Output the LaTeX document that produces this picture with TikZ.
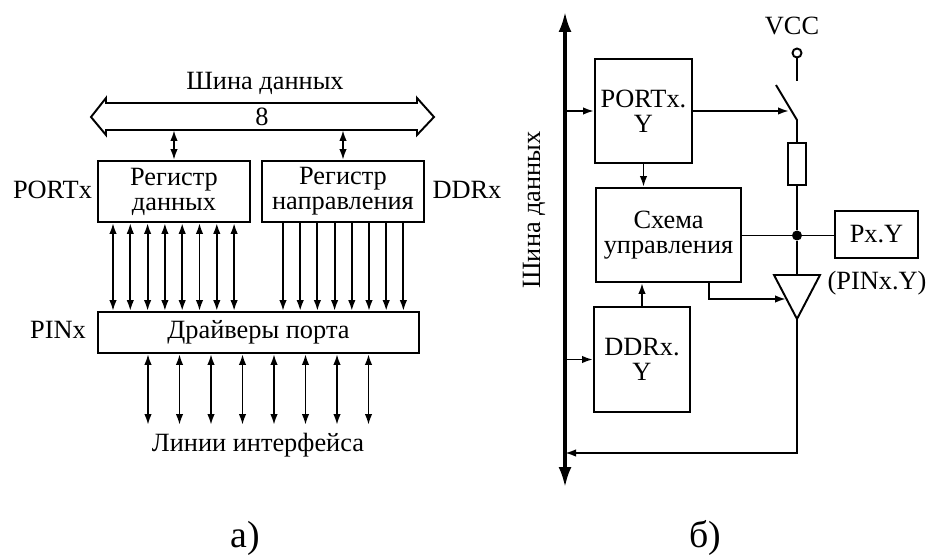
\documentclass[tikz,border=0pt]{standalone}
\usepackage{fontspec}
\usepackage{xcolor}
\usetikzlibrary{arrows.meta}
\setmainfont{Liberation Serif}
\tikzset{
  box/.style={draw,line width=1.1pt,inner sep=0pt,align=center,font=\lbl},
  lbl/.style={inner sep=0pt,align=center,font=\lbl},
  sig/.style={line width=1.1pt,-{Latex[length=2.2mm,width=1.5mm]}},
  sigboth/.style={line width=1.1pt,{Latex[length=2.2mm,width=1.5mm]}-{Latex[length=2.2mm,width=1.5mm]}},
  wire/.style={line width=1.1pt}
}
\newcommand{\lbl}{\fontsize{15}{14.2}\selectfont}
\begin{document}
\begin{tikzpicture}[x=1cm,y=1cm]
\useasboundingbox (0,0) rectangle (18.56,-11.12);
% a)
\node[lbl] (bustitle) at (5.30,-1.66) {Шина данных};
\draw[wire] (1.82,-2.34) -- (2.12,-1.96) -- (2.12,-2.06) -- (8.34,-2.06) -- (8.34,-1.96)
  -- (8.68,-2.34) -- (8.34,-2.70) -- (8.34,-2.60) -- (2.12,-2.60) -- (2.12,-2.70) -- cycle;
\node[lbl] (buswidth) at (5.24,-2.34) {8};
\coordinate (buslow) at (5.24,-2.60);
\node[box,minimum width=3.04cm,minimum height=1.22cm] (regdata) at (3.48,-3.83) {Регистр\\данных};
\node[box,minimum width=3.24cm,minimum height=1.22cm] (regdir) at (6.86,-3.83) {Регистр\\направления};
\node[box,minimum width=6.42cm,minimum height=0.82cm] (drivers) at (5.17,-6.65) {Драйверы порта};
\node[lbl] (portname) at (1.05,-3.80) {PORTx};
\node[lbl] (ddrname) at (9.34,-3.80) {DDRx};
\node[lbl] (pinname) at (1.16,-6.60) {PINx};
\node[lbl] (ifacename) at (5.16,-8.90) {Линии интерфейса};
\node[font=\fontsize{21.5}{22}\selectfont,inner sep=0pt] (capa) at (4.90,-10.76) {а)};
\draw[sigboth] (regdata.north) -- (regdata.north |- buslow);
\draw[sigboth] (regdir.north) -- (regdir.north |- buslow);
\foreach \i in {0,...,7} {
  \pgfmathsetmacro{\xa}{2.26+0.346*\i}
  \pgfmathsetmacro{\xb}{5.66+0.344*\i}
  \pgfmathsetmacro{\xc}{2.96+0.63*\i}
  \draw[sigboth] (\xa,0 |- regdata.south) -- (\xa,0 |- drivers.north);
  \draw[sig] (\xb,0 |- regdir.south) -- (\xb,0 |- drivers.north);
  \draw[sigboth] (\xc,0 |- drivers.south) -- (\xc,-8.50);
}
% b)
\coordinate (bustop) at (11.30,-0.24);
\coordinate (busbot) at (11.30,-9.74);
\draw[line width=1.8pt,{Latex[length=4mm,width=2.6mm]}-{Latex[length=4mm,width=2.6mm]}] (bustop) -- (busbot);
\node[lbl,rotate=90] (busname) at (10.68,-4.20) {Шина данных};
\node[box,minimum width=1.94cm,minimum height=2.08cm] (portbit) at (12.87,-2.22) {PORTx.\\Y};
\node[box,minimum width=2.90cm,minimum height=1.88cm] (ctrl) at (13.37,-4.70) {Схема\\управления};
\node[box,minimum width=1.92cm,minimum height=2.10cm] (ddrbit) at (12.84,-7.19) {DDRx.\\Y};
\node[box,minimum width=1.66cm,minimum height=0.94cm] (pxy) at (17.53,-4.69) {Px.Y};
\node[box,minimum width=0.36cm,minimum height=0.84cm] (res) at (15.94,-3.28) {};
\node[lbl] (vcc) at (15.84,-0.52) {VCC};
\node[draw,circle,line width=1.1pt,minimum size=0.18cm,inner sep=0pt] (term) at (15.94,-1.06) {};
\node[fill,circle,minimum size=0.2cm,inner sep=0pt] (junct) at (15.94,-4.71) {};
\node[lbl] (pinbit) at (17.54,-5.66) {(PINx.Y)};
\coordinate (termend) at (15.94,-1.62);
\coordinate (bladetop) at (15.52,-1.70);
\coordinate (bladelow) at (15.94,-2.40);
\coordinate (bladein) at (15.78,-2.22);
\coordinate (tril) at (15.48,-5.50);
\coordinate (trir) at (16.40,-5.50);
\coordinate (tritip) at (15.94,-6.38);
\coordinate (triin) at (15.72,-5.98);
\coordinate (ctrlout) at (14.18,-5.98);
\coordinate (turn) at (15.94,-9.06);
\draw[wire] (term) -- (termend);
\draw[wire] (bladetop) -- (bladelow) -- (15.94,-2.60) -- (res.north);
\draw[wire] (res.south) -- (junct) -- (junct |- tril);
\draw[wire] (tril) -- (trir) -- (tritip) -- cycle;
\draw[wire] (ctrl.east |- junct) -- (junct) -- (pxy.west |- junct);
\draw[sig] (bustop |- portbit.west) -- (portbit.west);
\draw[sig] (bustop |- ddrbit.west) -- (ddrbit.west);
\draw[sig] (portbit.east) -- (bladein);
\draw[sig] (portbit.south) -- (portbit.south |- ctrl.north);
\draw[sig] (ddrbit.north) -- (ddrbit.north |- ctrl.south);
\draw[sig] (ctrlout |- ctrl.south) -- (ctrlout) -- (triin);
\draw[sig] (tritip) -- (turn) -- (bustop |- turn);
\node[font=\fontsize{21.5}{22}\selectfont,inner sep=0pt] (capb) at (14.10,-10.76) {б)};
\end{tikzpicture}
\end{document}
